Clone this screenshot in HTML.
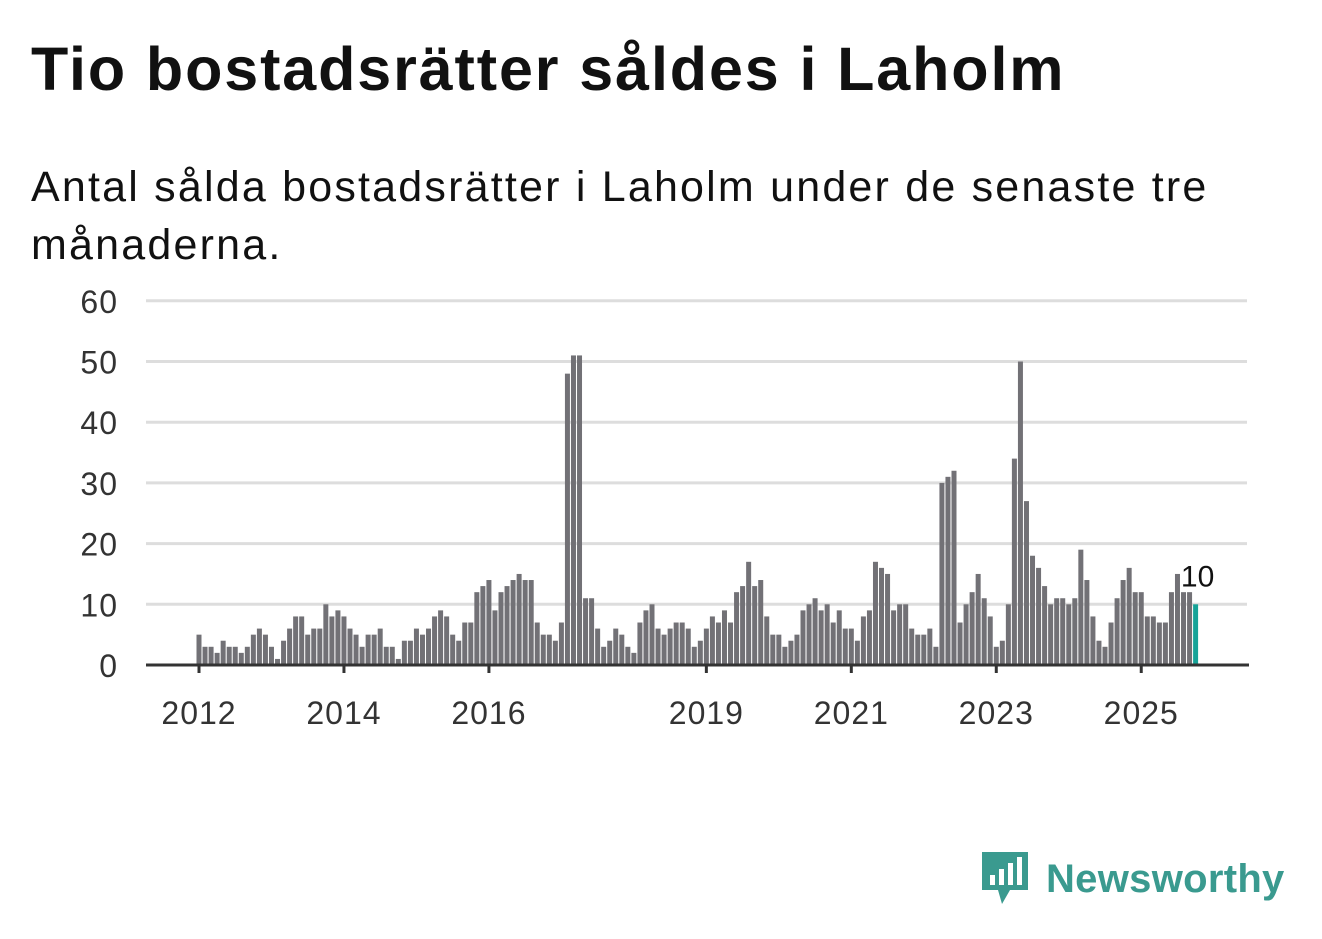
<!DOCTYPE html>
<html><head><meta charset="utf-8"><style>
body{margin:0;background:#fff;width:1322px;height:939px;overflow:hidden;font-family:"Liberation Sans",sans-serif}
h1{position:absolute;left:31px;top:34px;margin:0;font-size:61px;font-weight:bold;color:#111;letter-spacing:1.9px}
.sub{position:absolute;left:31px;top:158px;width:1270px;font-size:43px;line-height:58px;color:#111;letter-spacing:2.2px}
svg{position:absolute;left:0;top:0}
</style></head><body>
<h1>Tio bostadsrätter såldes i Laholm</h1>
<div class="sub">Antal sålda bostadsrätter i Laholm under de senaste tre månaderna.</div>
<svg id="chart" width="1322" height="939"></svg>
<div style="position:absolute;left:980px;top:850px;display:flex;align-items:center">
<svg width="50" height="58" style="position:static"><path d="M2 2h46v38H30l-8 14-4-14H2z" fill="#3a9a8f"/><rect x="10" y="25" width="5" height="10" fill="#fff"/><rect x="19" y="19" width="5" height="16" fill="#fff"/><rect x="28" y="13" width="5" height="22" fill="#fff"/><rect x="37" y="7" width="5" height="28" fill="#fff"/></svg>
<span style="font-size:40px;font-weight:bold;color:#3a9a8f;margin-left:16px;letter-spacing:0.3px">Newsworthy</span></div>
<script>
const values=[5,3,3,2,4,3,3,2,3,5,6,5,3,1,4,6,8,8,5,6,6,10,8,9,8,6,5,3,5,5,6,3,3,1,4,4,6,5,6,8,9,8,5,4,7,7,12,13,14,9,12,13,14,15,14,14,7,5,5,4,7,48,51,51,11,11,6,3,4,6,5,3,2,7,9,10,6,5,6,7,7,6,3,4,6,8,7,9,7,12,13,17,13,14,8,5,5,3,4,5,9,10,11,9,10,7,9,6,6,4,8,9,17,16,15,9,10,10,6,5,5,6,3,30,31,32,7,10,12,15,11,8,3,4,10,34,50,27,18,16,13,10,11,11,10,11,19,14,8,4,3,7,11,14,16,12,12,8,8,7,7,12,15,12,12,10];
const yTicks=[0,10,20,30,40,50,60];
const xLabels=["2012","2014","2016","2019","2021","2023","2025"];
const xLabelIdx=[0,24,48,84,108,132,156];
const svg=document.getElementById('chart');const NS='http://www.w3.org/2000/svg';
const y=v=>665-v*6.07, x=i=>199+i*6.04;
function mk(t,a){const e=document.createElementNS(NS,t);for(const k in a)e.setAttribute(k,a[k]);svg.appendChild(e);return e;}
yTicks.forEach(t=>{
 const l=mk('line',{x1:146,x2:1247,y1:y(t),y2:y(t),stroke:'#ddd','stroke-width':3});
 
 
 const tx=mk('text',{x:118,y:y(t)+12,'text-anchor':'end','font-size':32,fill:'#333','letter-spacing':1});tx.textContent=t;
 
 
});
values.forEach((v,i)=>{
 const last=i===values.length-1;
 const r=mk('rect',{x:x(i)-2.5,y:y(v),width:5,height:v*6.07,fill:last?'#17a398':'#727176'});
 
 
});
const ax=mk('line',{x1:146,x2:1249,y1:665,y2:665,stroke:'#333','stroke-width':3});


xLabels.forEach((s,k)=>{
 const xi=x(xLabelIdx[k]);
 mk('line',{x1:xi,x2:xi,y1:665,y2:673,stroke:'#333','stroke-width':3});
 const t=mk('text',{x:xi,y:724,'text-anchor':'middle','font-size':32,fill:'#333','letter-spacing':1});t.textContent=s;
 
 
});
const li=values.length-1;
const lab=mk('text',{x:x(li)+2,y:y(values[li])-18,'text-anchor':'middle','font-size':30,fill:'#111',stroke:'#fff','stroke-width':4,'paint-order':'stroke'});
lab.textContent=values[li];


</script>
</body></html>
